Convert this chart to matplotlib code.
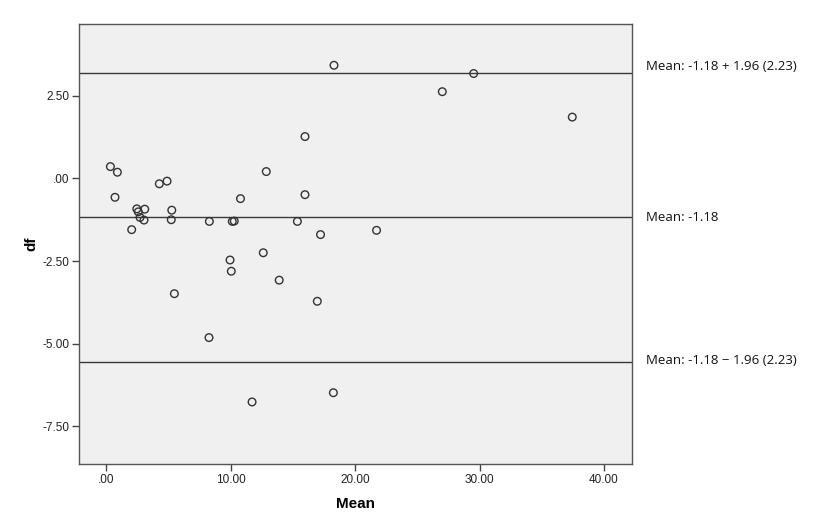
import matplotlib
matplotlib.use("Agg")
import matplotlib.pyplot as plt

# Bland-Altman style data
mean_vals = [0.35, 0.91, 0.72, 4.28, 4.90, 2.47, 2.59, 2.73, 3.11, 3.05,
             2.06, 5.28, 5.24, 5.49, 8.30, 10.14, 10.30, 10.80, 12.87, 9.96,
             10.06, 12.63, 13.91, 15.37, 15.98, 15.98, 17.23, 16.97, 18.31, 18.26,
             11.73, 8.27, 21.73, 27.01, 29.53, 37.45]
df_vals = [0.36, 0.19, -0.57, -0.16, -0.08, -0.92, -1.01, -1.18, -0.93, -1.26,
           -1.55, -0.96, -1.25, -3.49, -1.30, -1.30, -1.29, -0.61, 0.21, -2.47,
           -2.81, -2.25, -3.08, -1.30, 1.27, -0.49, -1.70, -3.72, 3.43, -6.49,
           -6.77, -4.82, -1.57, 2.63, 3.18, 1.86]

mean_diff = -1.18
sd_diff = 2.23
upper = mean_diff + 1.96 * sd_diff
lower = mean_diff - 1.96 * sd_diff

xticks = [0, 10, 20, 30, 40]
xtick_labels = [".00", "10.00", "20.00", "30.00", "40.00"]
yticks = [2.5, 0, -2.5, -5, -7.5]
ytick_labels = ["2.50", ".00", "-2.50", "-5.00", "-7.50"]

plt.rcParams["font.family"] = ["Liberation Sans", "DejaVu Sans"]

fig = plt.figure(figsize=(8.13, 5.21), dpi=100)
ax = fig.add_axes([0.0972, 0.1094, 0.6805, 0.8445])
ax.set_facecolor("#f0f0f0")

ax.scatter(mean_vals, df_vals, s=30, facecolors="none", edgecolors="#333333",
           linewidths=1.0, zorder=3)

for val in (upper, mean_diff, lower):
    ax.axhline(val, color="#3a3a3a", lw=1.0, zorder=2)

ax.set_xlim(-2.17, 42.27)
ax.set_ylim(-8.65, 4.68)
ax.set_xticks(xticks)
ax.set_xticklabels(xtick_labels)
ax.set_yticks(yticks)
ax.set_yticklabels(ytick_labels)
ax.tick_params(direction="out", length=5, width=1, color="#444444",
               labelsize=8.5, labelcolor="#222222", pad=2)
for sp in ax.spines.values():
    sp.set_color("#555555")
    sp.set_linewidth(1.0)

ax.set_xlabel("Mean", fontsize=11, fontweight="bold", labelpad=8)
ax.set_ylabel("df", fontsize=11, fontweight="bold")
ax.yaxis.set_label_coords(-0.074, 0.5)

lbl_font = ["Open Sans", "DejaVu Sans"]
ax.annotate("Mean: -1.18 + 1.96 (2.23)", xy=(1.0, upper), xycoords=("axes fraction", "data"),
            xytext=(10, 5), textcoords="offset points", va="center", ha="left",
            fontsize=9.5, family=lbl_font, color="#111111", annotation_clip=False)
ax.annotate("Mean: -1.18", xy=(1.0, mean_diff), xycoords=("axes fraction", "data"),
            xytext=(10, 0), textcoords="offset points", va="center", ha="left",
            fontsize=9.5, family=lbl_font, color="#111111", annotation_clip=False)
ax.annotate("Mean: -1.18 \u2212 1.96 (2.23)", xy=(1.0, lower), xycoords=("axes fraction", "data"),
            xytext=(10, 1), textcoords="offset points", va="center", ha="left",
            fontsize=9.5, family=lbl_font, color="#111111", annotation_clip=False)

fig.savefig("out.png", dpi=100)
